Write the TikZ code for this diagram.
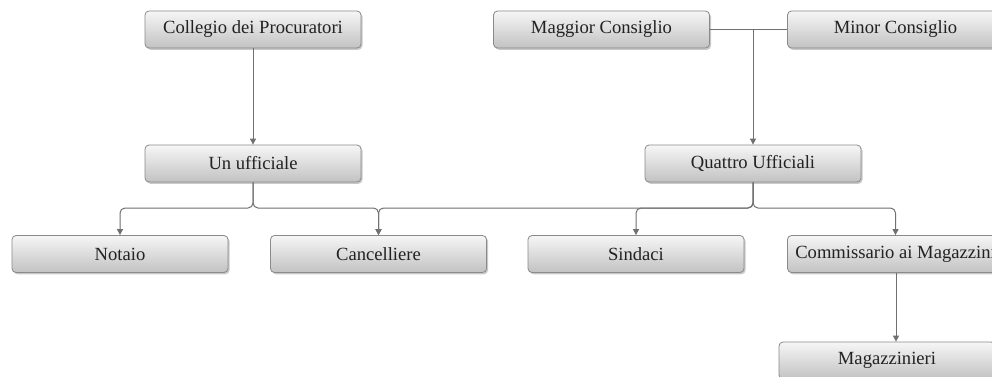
\documentclass[tikz,border=0pt]{standalone}
\usepackage{fontspec}
\setmainfont{Liberation Serif}
\usetikzlibrary{arrows.meta,shadows}
\definecolor{boxline}{HTML}{8A8A8A}
\definecolor{boxtop}{HTML}{F6F6F6}
\definecolor{boxbot}{HTML}{C2C2C2}
\definecolor{wire}{HTML}{707070}
\definecolor{ink}{HTML}{222222}
\tikzset{
  office/.style={draw=boxline, line width=0.8pt, rounded corners=4pt,
    top color=boxtop, bottom color=boxbot,
    minimum width=216pt, minimum height=37pt, inner sep=0pt,
    font=\fontsize{18.6}{20}\selectfont, text=ink,
    drop shadow={shadow xshift=1.5pt, shadow yshift=-1.8pt, opacity=0.35, fill=black!60}},
  wireline/.style={draw=wire, line width=1pt, rounded corners=5pt},
  arrow/.style={wireline, -{Triangle[width=6pt,length=6pt]}}
}
\begin{document}
\begin{tikzpicture}[x=1pt,y=-1pt]
  \clip (0,0) rectangle (992,376);
  \fill[white] (0,0) rectangle (992,376);

  % governing bodies
  \node[office] (collegio) at (253,29.5) {Collegio dei Procuratori};
  \node[office] (maggior)  at (601.5,29.5) {Maggior Consiglio};
  \node[office] (minor)    at (895.5,29.5) {Minor Consiglio};

  % officers
  \node[office] (unuff)   at (253,163.5) {Un ufficiale};
  \node[office] (quattro) at (753,163.5) {Quattro Ufficiali};

  % subordinate offices
  \node[office] (notaio)      at (120,254)   {Notaio};
  \node[office] (cancelliere) at (378.5,254) {Cancelliere};
  \node[office] (sindaci)     at (636,254)   {Sindaci};
  \node[office] (commissario) at (895.5,254) {Commissario ai Magazzini};
  \node[office] (magazz)      at (887,360.5) {Magazzinieri};

  \coordinate (bus) at (0,208);

  % connectors
  \draw[arrow] (collegio.south) -- (unuff.north);
  \draw[wireline] (maggior.east) -- (minor.west);
  \draw[arrow] (maggior.east -| quattro) -- (quattro.north);

  \draw[arrow] (unuff.south) -- (unuff.south |- bus) -| (notaio.north);
  \draw[arrow] (unuff.south) -- (unuff.south |- bus) -| (cancelliere.north);
  \draw[arrow] (quattro.south) -- (quattro.south |- bus) -| (cancelliere.north);
  \draw[arrow] (quattro.south) -- (quattro.south |- bus) -| (sindaci.north);
  \draw[arrow] (quattro.south) -- (quattro.south |- bus) -| (commissario.north);

  \draw[arrow] (commissario.south -| 896,0) -- (magazz.north -| 896,0);
\end{tikzpicture}
\end{document}
